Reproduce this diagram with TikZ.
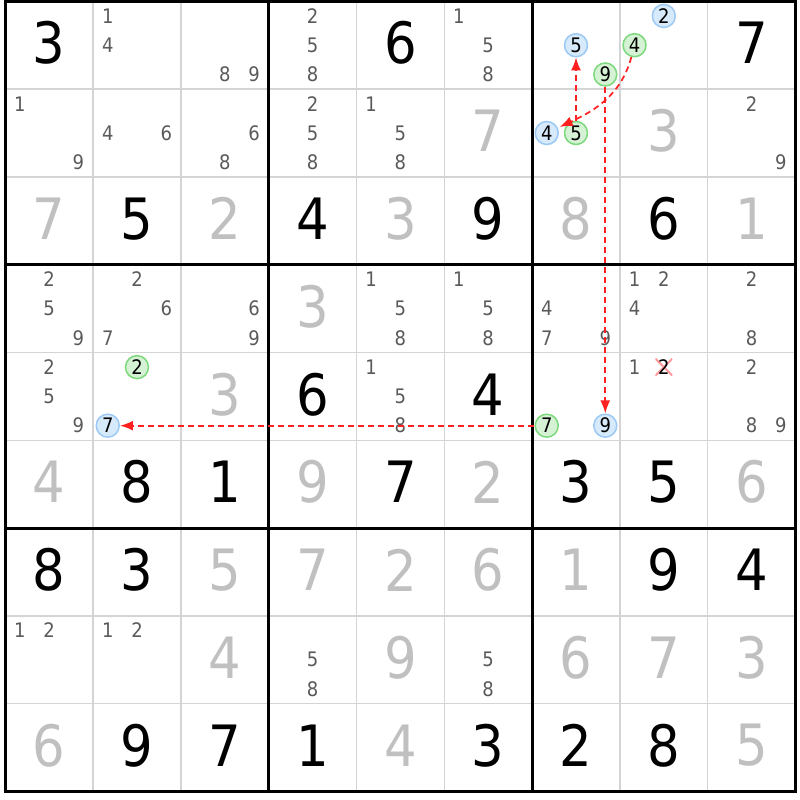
\documentclass[tikz,border=0pt]{standalone}
\usepackage{fontspec}
\setmainfont{DejaVu Sans Condensed}
\usepackage{tikz}
\usetikzlibrary{arrows.meta}

\definecolor{candgray}{HTML}{5A5A5A}
\definecolor{solvedgray}{HTML}{C0C0C0}
\definecolor{gridgray}{HTML}{D4D4D4}
\definecolor{linkred}{HTML}{FF2020}
\definecolor{onfill}{HTML}{D6EAFB}
\definecolor{onedge}{HTML}{9CC9F4}
\definecolor{offfill}{HTML}{D5F2D5}
\definecolor{offedge}{HTML}{7CD87C}

% cell size and top left corner of the grid
\newcommand\cs{87.8}
\newcommand\gx{5.3}
\newcommand\gy{1.3}

\tikzset{
  given/.style   = {font=\fontsize{57}{57}\selectfont, text=black, inner sep=0pt},
  solved/.style  = {given, text=solvedgray},
  cand/.style    = {font=\fontsize{20}{20}\selectfont, text=candgray, inner sep=0pt},
  oncand/.style  = {cand, text=black, circle, draw=onedge, fill=onfill,
                    line width=1.5pt, minimum size=23pt},
  offcand/.style = {oncand, draw=offedge, fill=offfill},
  elim/.style    = {cand, text=black, minimum size=17pt,
                    path picture={\draw[red!40, line width=2pt]
                      (path picture bounding box.north west) -- (path picture bounding box.south east)
                      (path picture bounding box.north east) -- (path picture bounding box.south west);}},
  cellline/.style = {draw=gridgray, line width=1.5pt},
  boxline/.style  = {draw=black, line width=3pt},
  link/.style     = {draw=linkred, line width=1.7pt, dash pattern=on 6pt off 4pt}
}

\begin{document}
\begin{tikzpicture}[x=1pt, y=-1pt, >={Latex[length=13pt,width=10pt]}]

\useasboundingbox (0,0) rectangle (800,800);

% thin cell lines, then the 3x3 box lines
\foreach \i in {1,2,4,5,7,8} {
  \draw[cellline] ({\gx+\i*\cs},\gy) -- ({\gx+\i*\cs},{\gy+9*\cs});
  \draw[cellline] (\gx,{\gy+\i*\cs}) -- ({\gx+9*\cs},{\gy+\i*\cs});
}
\foreach \i in {3,6} {
  \draw[boxline] ({\gx+\i*\cs},\gy) -- ({\gx+\i*\cs},{\gy+9*\cs});
  \draw[boxline] (\gx,{\gy+\i*\cs}) -- ({\gx+9*\cs},{\gy+\i*\cs});
}
\draw[boxline] (\gx,\gy) rectangle ({\gx+9*\cs},{\gy+9*\cs});

% givens
\foreach \r/\c/\d in {1/1/3, 1/5/6, 1/9/7, 3/2/5, 3/4/4, 3/6/9, 3/8/6, 5/4/6, 5/6/4,
    6/2/8, 6/3/1, 6/5/7, 6/7/3, 6/8/5, 7/1/8, 7/2/3, 7/8/9, 7/9/4,
    9/2/9, 9/3/7, 9/4/1, 9/6/3, 9/7/2, 9/8/8}
  \node[given] (g\r\c) at ({\gx+(\c-0.5)*\cs}, {\gy+(\r-0.5)*\cs-2}) {\d};

% solved cells
\foreach \r/\c/\d in {2/6/7, 2/8/3, 3/1/7, 3/3/2, 3/5/3, 3/7/8, 3/9/1, 4/4/3, 5/3/3,
    6/1/4, 6/4/9, 6/6/2, 6/9/6, 7/3/5, 7/4/7, 7/5/2, 7/6/6, 7/7/1,
    8/3/4, 8/5/9, 8/7/6, 8/8/7, 8/9/3, 9/1/6, 9/5/4, 9/9/5}
  \node[solved] (s\r\c) at ({\gx+(\c-0.5)*\cs}, {\gy+(\r-0.5)*\cs-2}) {\d};

% pencil marks
\foreach \r/\c/\ds in {1/2/{1,4}, 1/3/{8,9}, 1/4/{2,5,8}, 1/6/{1,5,8},
    2/1/{1,9}, 2/2/{4,6}, 2/3/{6,8}, 2/4/{2,5,8}, 2/5/{1,5,8}, 2/9/{2,9},
    4/1/{2,5,9}, 4/2/{2,6,7}, 4/3/{6,9}, 4/5/{1,5,8}, 4/6/{1,5,8},
    4/7/{4,7,9}, 4/8/{1,2,4}, 4/9/{2,8},
    5/1/{2,5,9}, 5/5/{1,5,8}, 5/8/{1}, 5/9/{2,8,9},
    8/1/{1,2}, 8/2/{1,2}, 8/4/{5,8}, 8/6/{5,8}} {
  \foreach \d in \ds {
    \pgfmathtruncatemacro\subc{mod(\d-1,3)}
    \pgfmathtruncatemacro\subr{div(\d-1,3)}
    \node[cand] (k\r\c\d) at ({\gx+(\c-1)*\cs+(\subc+0.5)*\cs/3}, {\gy+(\r-1)*\cs+(\subr+0.5)*\cs/3}) {\d};
  }
}

% marked pencil marks of the chain
\foreach \r/\c/\d/\kind in {1/7/5/oncand, 1/7/9/offcand, 1/8/2/oncand, 1/8/4/offcand,
    2/7/4/oncand, 2/7/5/offcand, 5/2/2/offcand, 5/2/7/oncand,
    5/7/7/offcand, 5/7/9/oncand, 5/8/2/elim} {
  \pgfmathtruncatemacro\subc{mod(\d-1,3)}
  \pgfmathtruncatemacro\subr{div(\d-1,3)}
  \node[\kind] (k\r\c\d) at ({\gx+(\c-1)*\cs+(\subc+0.5)*\cs/3}, {\gy+(\r-1)*\cs+(\subr+0.5)*\cs/3}) {\d};
}

% links
\draw[link, ->, shorten >=2pt] (k184) to[out=-105, in=25] (k274);
\draw[link, ->] (k275) -- (k175);
\draw[link, ->] (k179) -- (k579);
\draw[link, ->] (k577) -- (k527);

\end{tikzpicture}
\end{document}
